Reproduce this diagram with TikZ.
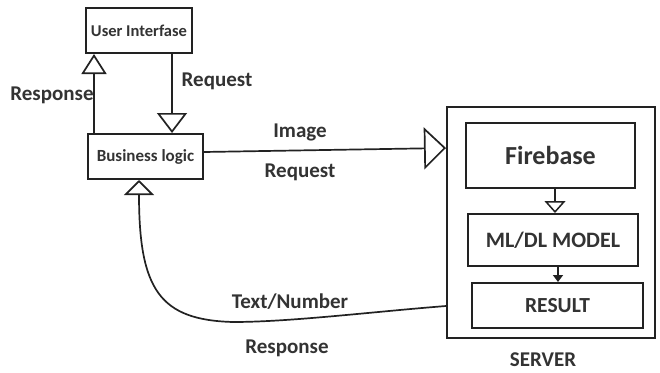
\documentclass[tikz,border=0pt]{standalone}
\usepackage{fontspec}
\setmainfont{Carlito}
\usetikzlibrary{arrows.meta}
\definecolor{ink}{HTML}{222222}
\definecolor{txt}{HTML}{333333}
\tikzset{
  box/.style={draw=ink, line width=2pt, rectangle, inner sep=0pt, text=txt, font=\bfseries},
  lbl/.style={text=txt, font=\fontsize{21}{23}\selectfont\bfseries, inner sep=0pt},
  conn/.style={draw=ink, line width=1.7pt},
}
\begin{document}
\begin{tikzpicture}[x=1pt,y=-1pt]
\useasboundingbox[fill=white] (0,0) rectangle (660,372);
% boxes
\node[box, minimum width=106pt, minimum height=45pt, font=\fontsize{16.5}{18}\selectfont\bfseries] (UI) at (139,30.5) {User Interfase};
\node[box, minimum width=115pt, minimum height=45pt, font=\fontsize{17}{18}\selectfont\bfseries] (BL) at (145.5,156.5) {Business logic};
\node[box, minimum width=208pt, minimum height=231pt] (S) at (551,222.5) {};
\node[box, minimum width=169pt, minimum height=65pt, font=\fontsize{26}{28}\selectfont\bfseries] (FB) at (550.5,155.5) {Firebase};
\node[box, minimum width=170pt, minimum height=52pt, font=\fontsize{22}{24}\selectfont\bfseries] (ML) at (553,240) {ML/DL MODEL};
\node[box, minimum width=171pt, minimum height=45pt, font=\fontsize{21.5}{23}\selectfont\bfseries] (RES) at (557.5,305.5) {RESULT};
% labels
\node[lbl] (l1) at (52,95) {Response};
\node[lbl] (l2) at (217,81) {Request};
\node[lbl] (l3) at (300,132) {Image};
\node[lbl] (l4) at (300,172) {Request};
\node[lbl] (l5) at (290,302) {Text/Number};
\node[lbl] (l6) at (287,348) {Response};
\node[lbl] (l7) at (543,360) {SERVER};
% connectors
\draw[conn, -{Triangle[open, length=20pt, width=25pt]}] ([xshift=7pt]BL.north west) -- ([xshift=9pt]UI.south west);
\draw[conn, -{Triangle[open, length=20pt, width=30pt]}] ([xshift=33pt]UI.south) -- ([xshift=26.5pt]BL.north);
\draw[conn, -{Triangle[open, length=22pt, width=42pt]}] ([yshift=4.5pt]BL.east) -- ([yshift=74.5pt]S.west);
\draw[conn, line width=1.5pt, -{Triangle[open, length=12pt, width=21pt]}] ([xshift=4.5pt]FB.south) -- ([xshift=2pt]ML.north);
\draw[conn, line width=1.5pt, -{Triangle[length=7pt, width=10pt]}] ([xshift=5pt]ML.south) -- ([xshift=0.5pt]RES.north);
\coordinate (cv) at (233,322);
\draw[conn, -{Triangle[open, length=15pt, width=30pt]}] ([yshift=-83.5pt]S.west) .. controls (370,312) and (290,322) .. (cv) .. controls (160,320) and (139,290) .. ([xshift=-6.5pt]BL.south);
\end{tikzpicture}
\end{document}
